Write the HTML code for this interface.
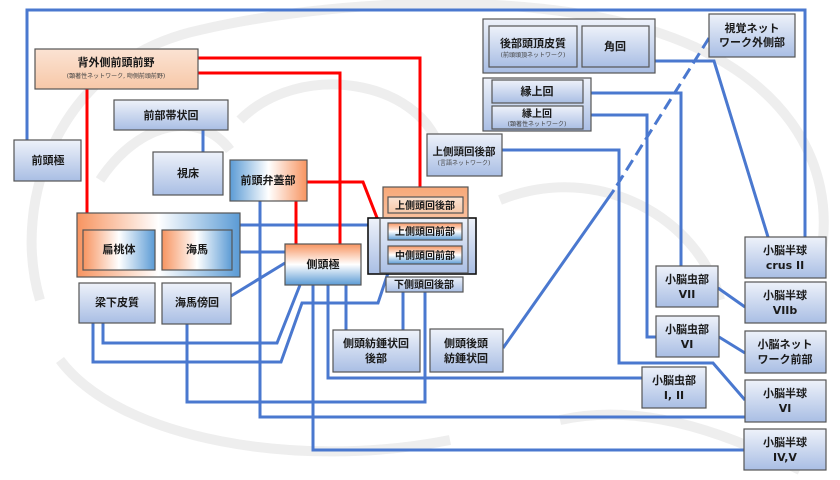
<!DOCTYPE html>
<html><head><meta charset="utf-8"><style>
html,body{margin:0;padding:0;background:#fff;}
svg{display:block;}
text{font-family:"DejaVu Sans","Liberation Sans","Noto Sans CJK JP",sans-serif;font-weight:bold;fill:#1a1a1a;stroke:none;text-anchor:middle;}
.s{font-size:6px;font-weight:normal;fill:#444;}
</style></head><body>
<svg width="840" height="480" viewBox="0 0 840 480" xmlns="http://www.w3.org/2000/svg">
<defs>
<linearGradient id="b" x1="0" y1="0" x2="0" y2="1"><stop offset="0" stop-color="#eef2fa"/><stop offset="1" stop-color="#a9bee4"/></linearGradient>
<linearGradient id="o" x1="0" y1="0" x2="0" y2="1"><stop offset="0" stop-color="#fbe3d3"/><stop offset="1" stop-color="#f7c8a8"/></linearGradient>
<linearGradient id="ob" x1="0" y1="0" x2="0" y2="1"><stop offset="0" stop-color="#f79460"/><stop offset="0.5" stop-color="#ffffff"/><stop offset="1" stop-color="#5b9bd5"/></linearGradient>
<linearGradient id="oh" x1="0" y1="0" x2="1" y2="0"><stop offset="0" stop-color="#f79460"/><stop offset="0.5" stop-color="#ffffff"/><stop offset="1" stop-color="#5b9bd5"/></linearGradient>
<linearGradient id="bo" x1="0" y1="0" x2="1" y2="0"><stop offset="0" stop-color="#5b9bd5"/><stop offset="0.5" stop-color="#ffffff"/><stop offset="1" stop-color="#f79460"/></linearGradient>
<linearGradient id="og" x1="0" y1="0" x2="0" y2="1"><stop offset="0" stop-color="#f8a878"/><stop offset="1" stop-color="#fde9dc"/></linearGradient>
</defs>
<!-- faint background -->
<g fill="none" stroke="#eeeeee" stroke-width="10">
<path d="M40 300 C10 200 60 60 200 30 C330 0 520 -10 650 30 C780 70 840 160 820 260"/>
<path d="M60 360 C120 440 300 470 450 440"/>
<path d="M240 120 C300 60 420 80 440 150"/>
<path d="M500 200 C600 160 700 220 720 300"/>
<path d="M100 180 C140 120 200 110 230 150"/>
<path d="M560 420 C650 400 740 440 800 470"/>
</g>
<!-- blue lines -->
<g fill="none" stroke="#4a78cf" stroke-width="3">
<path d="M27 140 V10 H805 V237"/>
<path d="M655 61 H714 L768 237"/>
<path d="M709 38 L614 190" stroke-dasharray="12,6"/>
<path d="M614 190 L503 348"/>
<path d="M591 93 H681 V266"/>
<path d="M583 115 H647 V337 H656"/>
<path d="M502 150 H619 V363 H713 L745 400"/>
<path d="M718 288 L745 307"/>
<path d="M719 337 L745 353"/>
<path d="M232 234 L240 225 H368"/>
<path d="M240 252 H285"/>
<path d="M231 296 L285 263"/>
<path d="M260 201 V417 H745"/>
<path d="M103 323 V343 H277 L300 285"/>
<path d="M93 323 V362 H281 L302 303 H378 L391 264"/>
<path d="M187 324 V402 H425 V292"/>
<path d="M328 285 V378 H642"/>
<path d="M313 285 V450 H744"/>
<path d="M346 285 V330"/>
<path d="M403 292 V330"/>
<path d="M203 130 V152"/>
</g>
<!-- red lines -->
<g fill="none" stroke="#ff0000" stroke-width="3">
<path d="M198 58 H420 V187"/>
<path d="M198 73 H340 V244"/>
<path d="M87 89 V213"/>
<path d="M307 182 H363 L388 246"/>
<path d="M296 201 V244"/>
</g>
<g stroke="#555" stroke-width="1.2">
<rect x="35" y="49" width="163" height="40" fill="url(#o)"/>
<rect x="114" y="100" width="114" height="30" fill="url(#b)"/>
<rect x="14" y="140" width="67" height="41" fill="url(#b)"/>
<rect x="153" y="152" width="70" height="43" fill="url(#b)"/>
<rect x="230" y="160" width="77" height="41" fill="url(#bo)"/>
<rect x="77" y="213" width="163" height="64" fill="url(#oh)"/>
<rect x="83" y="230" width="72" height="40" fill="url(#oh)"/>
<rect x="162" y="230" width="70" height="40" fill="url(#oh)"/>
<rect x="79" y="283" width="76" height="40" fill="url(#b)"/>
<rect x="162" y="283" width="69" height="41" fill="url(#b)"/>
<rect x="285" y="244" width="76" height="41" fill="url(#ob)"/>
<rect x="383" y="187" width="85" height="86" fill="url(#og)"/>
<rect x="368" y="218" width="108" height="56" fill="url(#b)" stroke="#111" stroke-width="1.6"/>
<rect x="380" y="218" width="88" height="55" fill="none"/>
<rect x="388" y="197" width="75" height="16" fill="url(#o)"/>
<rect x="388" y="223" width="74" height="17" fill="url(#ob)"/>
<rect x="388" y="246" width="74" height="18" fill="url(#ob)"/>
<rect x="386" y="277" width="77" height="15" fill="url(#b)"/>
<rect x="333" y="330" width="87" height="42" fill="url(#b)"/>
<rect x="430" y="329" width="73" height="43" fill="url(#b)"/>
<rect x="483" y="19" width="172" height="54" fill="url(#b)"/>
<rect x="489" y="26" width="88" height="41" fill="url(#b)"/>
<rect x="582" y="26" width="67" height="41" fill="url(#b)"/>
<rect x="483" y="78" width="108" height="53" fill="url(#b)"/>
<rect x="492" y="80" width="91" height="23" fill="url(#b)"/>
<rect x="492" y="106" width="91" height="23" fill="url(#b)"/>
<rect x="427" y="134" width="75" height="42" fill="url(#b)"/>
<rect x="709" y="14" width="86" height="43" fill="url(#b)"/>
<rect x="745" y="237" width="81" height="41" fill="url(#b)"/>
<rect x="656" y="266" width="62" height="41" fill="url(#b)"/>
<rect x="745" y="282" width="81" height="41" fill="url(#b)"/>
<rect x="656" y="316" width="63" height="41" fill="url(#b)"/>
<rect x="745" y="331" width="81" height="42" fill="url(#b)"/>
<rect x="642" y="367" width="64" height="41" fill="url(#b)"/>
<rect x="745" y="380" width="81" height="42" fill="url(#b)"/>
<rect x="744" y="429" width="82" height="41" fill="url(#b)"/>
</g>
<g>
<text x="116" y="66" font-size="11">背外側前頭前野</text>
<text x="116" y="78" class="s">(顕著性ネットワーク, 吻側前頭前野)</text>
<text x="171" y="119" font-size="11">前部帯状回</text>
<text x="48" y="164" font-size="11">前頭極</text>
<text x="188" y="177" font-size="11">視床</text>
<text x="268" y="184" font-size="11">前頭弁蓋部</text>
<text x="119" y="253" font-size="11">扁桃体</text>
<text x="197" y="253" font-size="11">海馬</text>
<text x="117" y="306" font-size="11">梁下皮質</text>
<text x="197" y="306" font-size="11">海馬傍回</text>
<text x="323" y="268" font-size="11">側頭極</text>
<text x="425" y="209" font-size="10">上側頭回後部</text>
<text x="425" y="235" font-size="10">上側頭回前部</text>
<text x="425" y="259" font-size="10">中側頭回前部</text>
<text x="424" y="288" font-size="10">下側頭回後部</text>
<text x="376" y="347" font-size="11">側頭紡錘状回</text>
<text x="376" y="362" font-size="11">後部</text>
<text x="466" y="347" font-size="11">側頭後頭</text>
<text x="466" y="362" font-size="11">紡錘状回</text>
<text x="533" y="47" font-size="11">後部頭頂皮質</text>
<text x="533" y="57" class="s">(前頭頭頂ネットワーク)</text>
<text x="615" y="50" font-size="11">角回</text>
<text x="537" y="95" font-size="11">縁上回</text>
<text x="537" y="117" font-size="10">縁上回</text>
<text x="537" y="126" class="s">(顕著性ネットワーク)</text>
<text x="464" y="155" font-size="10.5">上側頭回後部</text>
<text x="464" y="165" class="s">(言語ネットワーク)</text>
<text x="752" y="32" font-size="11">視覚ネット</text>
<text x="752" y="46" font-size="11">ワーク外側部</text>
<text x="785" y="254" font-size="11">小脳半球</text>
<text x="785" y="269" font-size="11">crus II</text>
<text x="687" y="283" font-size="11">小脳虫部</text>
<text x="687" y="298" font-size="11">VII</text>
<text x="785" y="299" font-size="11">小脳半球</text>
<text x="785" y="314" font-size="11">VIIb</text>
<text x="687" y="333" font-size="11">小脳虫部</text>
<text x="687" y="348" font-size="11">VI</text>
<text x="785" y="348" font-size="11">小脳ネット</text>
<text x="785" y="363" font-size="11">ワーク前部</text>
<text x="674" y="384" font-size="11">小脳虫部</text>
<text x="674" y="399" font-size="11">I, II</text>
<text x="785" y="397" font-size="11">小脳半球</text>
<text x="785" y="412" font-size="11">VI</text>
<text x="785" y="446" font-size="11">小脳半球</text>
<text x="785" y="461" font-size="11">IV,V</text>
</g>
</svg>
</body></html>
